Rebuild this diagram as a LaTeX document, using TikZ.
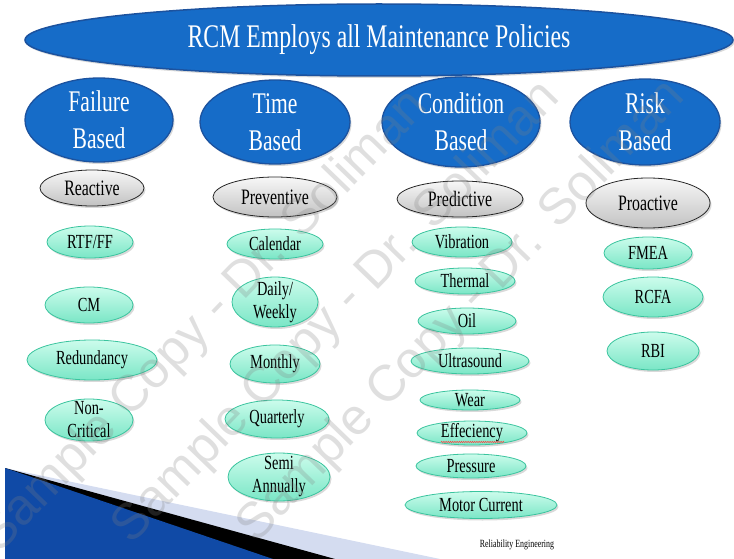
\documentclass[tikz,border=0pt]{standalone}
\usepackage{fontspec}
\setmainfont{Liberation Serif}[FakeStretch=0.72]
\newfontfamily\wmfont{Liberation Sans}
\usepackage{tikz}
\usetikzlibrary{shapes.geometric,shadows,calc,decorations.pathmorphing}

\definecolor{rcmblue}{RGB}{22,108,200}
\definecolor{rcmrim}{RGB}{28,82,158}
\definecolor{mintlight}{RGB}{204,252,236}
\definecolor{mintdark}{RGB}{122,230,198}
\definecolor{mintrim}{RGB}{58,196,158}
\definecolor{slideblue}{RGB}{16,74,166}
\definecolor{slidelight}{RGB}{76,132,224}
\definecolor{slideband}{RGB}{212,220,240}

\tikzstyle{banner}=[
	 ellipse, draw=rcmrim, line width=1.5pt,
	 fill=rcmblue, text=white, inner sep=0pt,
	 font=\fontsize{33}{33}\selectfont,
	 drop shadow={shadow xshift=1.5pt,shadow yshift=-2pt,opacity=0.3}
    ]
\tikzstyle{policy}=[
	 ellipse, draw=rcmrim, line width=1.3pt,
	 fill=rcmblue, text=white, inner sep=-5pt, align=center,
	 font=\fontsize{30}{37}\selectfont,
	 drop shadow={shadow xshift=1.5pt,shadow yshift=-2pt,opacity=0.3}
    ]
\tikzstyle{family}=[
	 ellipse, draw=black!85, line width=0.8pt,
	 top color=gray!6, bottom color=gray!48, inner sep=-5pt,
	 font=\fontsize{22}{22}\selectfont,
	 drop shadow={shadow xshift=1.5pt,shadow yshift=-2pt,opacity=0.3}
    ]
\tikzstyle{task}=[
	 ellipse, draw=mintrim, line width=0.8pt,
	 top color=mintlight, bottom color=mintdark, inner sep=-6pt, align=center,
	 font=\fontsize{20}{23}\selectfont,
	 drop shadow={shadow xshift=1.5pt,shadow yshift=-2pt,opacity=0.3}
    ]
\tikzstyle{watermark}=[
	 text=gray, opacity=0.25, inner sep=0pt, rotate=46,
	 font=\wmfont\fontsize{51}{51}\selectfont
    ]
% name, position, width, height, text
\newcommand{\task}[5]{\node[task,minimum width=#3pt,minimum height=#4pt] (#1) at (#2) {#5}}

\begin{document}
\begin{tikzpicture}[x=1pt,y=-1pt]
\useasboundingbox (0,0) rectangle (734,559);

% slide corner
\fill[slideband] (5,468) -- (440,559) -- (5,559) -- cycle;
\fill[black] (5,468) -- (335,559) -- (5,559) -- cycle;
\shade[left color=slideblue, middle color=slidelight, right color=slideblue] (5,468) -- (273,559) -- (5,559) -- cycle;

\node[banner,minimum width=708pt,minimum height=72pt] (rcm) at (379,40) {RCM Employs all Maintenance Policies};

% policies
\node[policy,minimum width=148pt,minimum height=84pt] (F) at (99,120) {Failure\\Based};
\node[policy,minimum width=150pt,minimum height=84pt] (T) at (275,122) {Time\\Based};
\node[policy,minimum width=158pt,minimum height=90pt] (C) at (461,122) {Condition\\Based};
\node[policy,minimum width=150pt,minimum height=86pt] (R) at (645,122) {Risk\\Based};

\node[family,minimum width=104pt,minimum height=36pt] (F0) at (92,188) {Reactive};
\node[family,minimum width=124pt,minimum height=40pt] (T0) at (275,197) {Preventive};
\node[family,minimum width=126pt,minimum height=36pt] (C0) at (460,199) {Predictive};
\node[family,minimum width=124pt,minimum height=50pt] (R0) at (648,203) {Proactive};

% failure based
\task{F1}{90,242}{86}{32}{RTF/FF};
\task{F2}{89,305}{88}{36}{CM};
\task{F3}{92,360}{130}{40}{Redundancy};
\task{F4}{89,420}{88}{42}{Non-\\Critical};

% time based
\task{T1}{275,244}{96}{30}{Calendar};
\task{T2}{275,302}{86}{50}{Daily/\\Weekly};
\task{T3}{275,364}{90}{38}{Monthly};
\task{T4}{277,419}{104}{38}{Quarterly};
\task{T5}{279,477}{102}{48}{Semi\\Annually};

% condition based
\task{C1}{462,242}{100}{30}{Vibration};
\task{C2}{465,281}{100}{26}{Thermal};
\task{C3}{467,321}{98}{26}{Oil};
\task{C4}{470,361}{118}{26}{Ultrasound};
\task{C5}{470,400}{100}{20}{Wear};
\task{C6}{472,433}{110}{24}{Effeciency};
\task{C7}{471,466}{110}{24}{Pressure};
\task{C8}{481,505}{152}{27}{Motor Current};

% risk based
\task{R1}{648,253}{88}{32}{FMEA};
\task{R2}{653,297}{100}{40}{RCFA};
\task{R3}{653,351}{92}{38}{RBI};

% spelling mark
\draw[red!75,line width=0.5pt,decorate,decoration={snake,amplitude=0.7pt,segment length=2.2pt}]
  ($(C6.center)+(-31,9)$) -- ($(C6.center)+(32,9)$);

\node[font=\fontsize{11}{11}\selectfont] (foot) at (517,545) {Reliability Engineering};

\node[watermark] (wm1) at (205,322) {Sample Copy - Dr. Soliman};
\node[watermark] (wm2) at (337,313) {Sample Copy - Dr. Soliman};
\node[watermark] (wm3) at (462,312) {Sample Copy - Dr. Soliman};

\end{tikzpicture}
\end{document}
